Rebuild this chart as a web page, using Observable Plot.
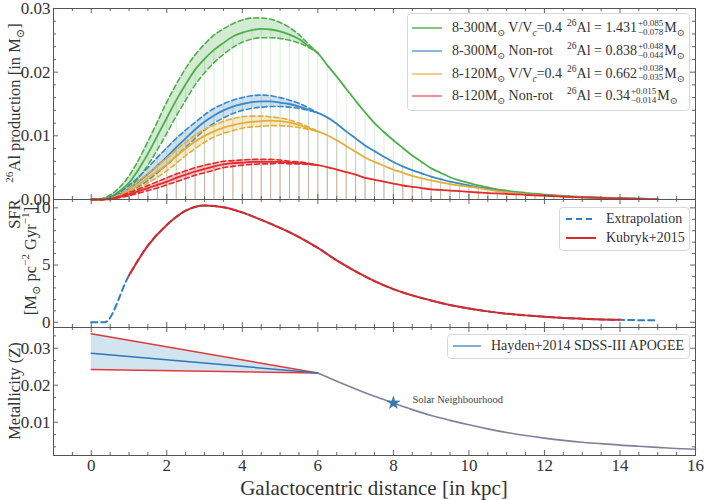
<!DOCTYPE html>
<html><head><meta charset="utf-8">
<script src="https://cdn.jsdelivr.net/npm/d3@7"></script>
<script src="https://cdn.jsdelivr.net/npm/@observablehq/plot@0.6"></script>
<style>
body{margin:0;background:#fff;}
#wrap{position:relative;width:706px;height:500px;font-family:"Liberation Serif","DejaVu Serif",serif;color:#333;background:#fff;overflow:hidden;}
#wrap svg{position:absolute;left:0;}
.lbl{position:absolute;white-space:nowrap;z-index:5;line-height:1;}
.c{transform:translate(-50%,-50%);}
.rot{transform:translate(-50%,-50%) rotate(-90deg);}
.leg{position:absolute;background:rgba(255,255,255,0.9);border:1px solid #d8d8d8;border-radius:4px;z-index:6;font-size:14px;}
.row{position:absolute;left:0;right:0;height:18px;line-height:18px;white-space:nowrap;}
.sw{position:absolute;height:2px;top:8px;}
.tx{position:absolute;top:0;}
sub,sup{font-size:68%;line-height:0;}
.ss{display:inline-flex;flex-direction:column;font-size:9px;line-height:9px;vertical-align:middle;margin:0 1px 0 1px;position:relative;top:-1px;}
</style>
</head><body>
<div id="wrap"></div>
<script>
// ---------- data ----------
const xGrid = [0,0.25,0.5,0.75,1,1.25,1.5,1.75,2,2.25,2.5,2.75,3,3.25,3.5,3.75,4,4.25,4.5,4.75,5,5.25,5.5,5.75,6,
  6.25,6.5,6.75,7,7.25,7.5,7.75,8,8.25,8.5,8.75,9,9.25,9.5,9.75,10,10.25,10.5,10.75,
  11,11.25,11.5,11.75,12,12.25,12.5,12.75,13,13.25,13.5,13.75,14,14.25,14.5,14.75,15];
const al300rot = [0,0.00005,0.0004,0.0013,0.0026,0.0047,0.0072,0.0100,0.0128,0.0156,0.0181,0.0204,0.0221,0.0235,0.0246,0.0256,0.0262,0.0266,0.0268,0.0267,0.0264,0.0259,0.0252,0.0241,0.0230,
  0.0211,0.0193,0.0174,0.0155,0.0137,0.0120,0.0106,0.0093,0.0081,0.0069,0.0059,0.0049,0.0042,0.0035,0.0030,0.0026,0.0022,0.0019,0.0016,
  0.0014,0.0012,0.00105,0.0009,0.00078,0.00067,0.00057,0.00049,0.00042,0.00036,0.00031,0.00026,0.00022,0.00018,0.00014,0.0001,0.00007];
const al300non = [0,0,0.0002,0.0008,0.0017,0.0028,0.0040,0.0053,0.0067,0.0082,0.0096,0.0110,0.0122,0.0132,0.0140,0.0146,0.0150,0.0153,0.0154,0.0154,0.0152,0.0150,0.0146,0.0141,0.0136,
  0.0129,0.0119,0.0107,0.0096,0.0085,0.0076,0.0067,0.0059,0.0052,0.0046,0.0041,0.0036,0.0032,0.0028,0.0025,0.0022,0.0019,0.0017,0.0014,
  0.0012,0.00103,0.00088,0.00076,0.00066,0.00057,0.00049,0.00042,0.00036,0.00031,0.00027,0.00023,0.00019,0.00015,0.00012,0.00009,0.00006];
const al120rot = [0,0,0.0001,0.0006,0.0013,0.0023,0.0034,0.0044,0.0055,0.0068,0.0080,0.0091,0.0100,0.0107,0.0113,0.0117,0.0120,0.0122,0.0123,0.0124,0.0123,0.0121,0.0117,0.0112,0.0107,
  0.0101,0.0093,0.0084,0.0075,0.0066,0.0059,0.0053,0.0047,0.0042,0.0037,0.0033,0.0030,0.0027,0.0024,0.0022,0.0020,0.0018,0.00155,0.00133,
  0.00115,0.00098,0.00084,0.00072,0.00062,0.00054,0.00046,0.0004,0.00034,0.0003,0.00026,0.00022,0.00018,0.00014,0.00011,0.00008,0.00005];
const al120non = [0,0,0.0001,0.0004,0.0008,0.0013,0.0018,0.0023,0.0028,0.0034,0.0039,0.0044,0.0048,0.0052,0.0055,0.0057,0.0058,0.0059,0.0059,0.0059,0.0059,0.0058,0.0057,0.0056,0.0054,
  0.0051,0.0047,0.0043,0.0039,0.0034,0.0031,0.0028,0.0025,0.0022,0.0020,0.0018,0.0016,0.0015,0.0014,0.0013,0.0012,0.0011,0.0010,0.00095,
  0.00088,0.0008,0.00073,0.00066,0.0006,0.00053,0.00046,0.0004,0.00034,0.00029,0.00025,0.00021,0.00017,0.00013,0.0001,0.00007,0.00005];
// uncertainty bands (0 .. 6 kpc)
const al300rotHi = [0,0.0001,0.0007,0.0019,0.0037,0.0062,0.0091,0.0122,0.0153,0.0181,0.0206,0.0227,0.0244,0.0258,0.0268,0.0276,0.0282,0.0285,0.0285,0.0283,0.0278,0.0270,0.0259,0.0244,0.0230];
const al300rotLo = [0,0,0.0002,0.0008,0.0017,0.0034,0.0054,0.0078,0.0104,0.0131,0.0156,0.0180,0.0199,0.0215,0.0228,0.0239,0.0247,0.0252,0.0254,0.0254,0.0253,0.0250,0.0246,0.0239,0.0230];
const al300nonHi = [0,0,0.0003,0.0011,0.0022,0.0035,0.0050,0.0066,0.0081,0.0096,0.0109,0.0121,0.0133,0.0143,0.0150,0.0156,0.0160,0.0163,0.0164,0.0163,0.0160,0.0156,0.0151,0.0144,0.0136];
const al300nonLo = [0,0,0.0001,0.0005,0.0012,0.0020,0.0030,0.0042,0.0054,0.0068,0.0082,0.0096,0.0109,0.0120,0.0128,0.0135,0.0140,0.0143,0.0145,0.0146,0.0146,0.0145,0.0143,0.0140,0.0136];
const al120rotHi = [0,0,0.0002,0.0008,0.0017,0.0029,0.0041,0.0053,0.0065,0.0078,0.0090,0.0101,0.0110,0.0117,0.0123,0.0127,0.0130,0.0131,0.0131,0.0130,0.0128,0.0125,0.0120,0.0114,0.0107];
const al120rotLo = [0,0,0.0001,0.0004,0.0009,0.0017,0.0026,0.0035,0.0045,0.0057,0.0069,0.0080,0.0090,0.0098,0.0104,0.0108,0.0112,0.0114,0.0115,0.0116,0.0116,0.0115,0.0113,0.0110,0.0107];
const al120nonHi = [0,0,0.0001,0.0005,0.0011,0.0016,0.0022,0.0028,0.0034,0.0040,0.0045,0.0050,0.0054,0.0057,0.0060,0.0061,0.0062,0.0063,0.0063,0.0063,0.0062,0.0060,0.0059,0.0057,0.0054];
const al120nonLo = [0,0,0,0.0003,0.0006,0.0010,0.0014,0.0018,0.0023,0.0028,0.0033,0.0038,0.0042,0.0046,0.0050,0.0052,0.0054,0.0055,0.0056,0.0056,0.0057,0.0056,0.0056,0.0055,0.0054];

// SFR panel
const sfrX = [1,1.5,2,2.5,3,3.5,4,4.5,5,5.5,6,6.5,7,7.5,8,8.5,9,9.5,10,10.5,11,11.5,12,12.5,13,13.5,14];
const sfrKubryk = [4.1,6.7,8.5,9.75,10.2,10.05,9.6,8.95,8.25,7.45,6.5,5.4,4.45,3.6,2.9,2.35,1.9,1.5,1.2,0.95,0.75,0.6,0.48,0.38,0.31,0.25,0.21];
const extrapInX = [0,0.35,1];
const extrapInY = [0,0,4.1];
const extrapOutX = [14,15];
const extrapOutY = [0.21,0.16];

// Metallicity panel
const zGradX = [0,6];
const zGradHi = [0.0339,0.0233];
const zGradMid = [0.02865,0.0233];
const zGradLo = [0.02424,0.0233];
const zOutX = [6,6.5,7,7.5,8,8.5,9,9.5,10,10.5,11,11.5,12,12.5,13,13.5,14,14.5,15,15.5,16];
const zOut = [0.0233,0.0211,0.0190,0.0170,0.0152,0.0134,0.0118,0.0105,0.0093,0.0082,0.0072,0.0064,0.0057,0.0051,0.0046,0.0042,0.0038,0.0035,0.0032,0.0029,0.0027];
const solar = {x: 8, z: 0.0152, label: "Solar Neighbourhood"};

// legend texts
const legMass = ["8-300M<sub>⊙</sub> V/V<sub><i>c</i></sub>=0.4","8-300M<sub>⊙</sub> Non-rot","8-120M<sub>⊙</sub> V/V<sub><i>c</i></sub>=0.4","8-120M<sub>⊙</sub> Non-rot"];
const legTotal = ["1.431","0.838","0.662","0.34"];
const legPlus = ["+0.085","+0.048","+0.038","+0.015"];
const legMinus = ["−0.078","−0.044","−0.035","−0.014"];
const xTicks = [0,2,4,6,8,10,12,14,16];

// ---------- styles ----------
const COL = ["#4daf4a","#3a88c5","#e5ae38","#e3292b"];
const LEGCOL = ["rgba(77,175,74,0.7)","rgba(58,136,197,0.6)","rgba(229,174,56,0.6)","rgba(227,41,43,0.5)"];
const W = 706, ML = 53, MR = 11, FW = W - ML - MR;
const xDom = [-1, 16];
const FONT = '"Liberation Serif","DejaVu Serif",serif';
const TK = "#555";

function ticks(yDom, H, yMaj, yMin) {
  const xr = xDom[1] - xDom[0], yr = yDom[1] - yDom[0];
  const xMaj = xTicks.filter(v => v > xDom[0] && v < xDom[1]);
  const xMin = d3.range(-0.5, 16, 0.5).filter(v => v % 2 !== 0);
  const o = {stroke: TK, strokeWidth: 0.9};
  const m = [];
  [[xMaj,5],[xMin,3]].forEach(([arr,L]) => {
    const d = L / H * yr;
    m.push(Plot.ruleX(arr, {x: v => v, y1: yDom[0], y2: yDom[0] + d, ...o}));
    m.push(Plot.ruleX(arr, {x: v => v, y1: yDom[1] - d, y2: yDom[1], ...o}));
  });
  [[yMaj,5],[yMin,3]].forEach(([arr,L]) => {
    const d = L / FW * xr;
    m.push(Plot.ruleY(arr, {y: v => v, x1: xDom[0], x2: xDom[0] + d, ...o}));
    m.push(Plot.ruleY(arr, {y: v => v, x1: xDom[1] - d, x2: xDom[1], ...o}));
  });
  m.push(Plot.frame({stroke: TK, strokeWidth: 1}));
  return m;
}
const baseStyle = {background: "transparent", fontFamily: FONT, fontSize: "17px", color: "#333", overflow: "visible"};

// ---------- panel 1 ----------
const central = [al300rot, al300non, al120rot, al120non];
const hi = [al300rotHi, al300nonHi, al120rotHi, al120nonHi];
const lo = [al300rotLo, al300nonLo, al120rotLo, al120nonLo];
const bandX = xGrid.slice(0, 25);
const m1 = [];
central.forEach((s, k) => {
  const d = xGrid.map((x, i) => ({x, y: s[i]}));
  m1.push(Plot.ruleX(d, {x: "x", y1: 0, y2: "y", stroke: COL[k], strokeOpacity: 0.2, strokeWidth: 1}));
});
central.forEach((s, k) => {
  const b = bandX.map((x, i) => ({x, lo: lo[k][i], hi: hi[k][i]}));
  const d = xGrid.map((x, i) => ({x, y: s[i]}));
  m1.push(Plot.areaY(b, {x: "x", y1: "lo", y2: "hi", fill: COL[k], fillOpacity: 0.25, curve: "monotone-x"}));
  m1.push(Plot.line(b, {x: "x", y: "hi", stroke: COL[k], strokeWidth: 1.6, strokeDasharray: "5,3", curve: "monotone-x"}));
  m1.push(Plot.line(b, {x: "x", y: "lo", stroke: COL[k], strokeWidth: 1.6, strokeDasharray: "5,3", curve: "monotone-x"}));
  m1.push(Plot.line(d, {x: "x", y: "y", stroke: COL[k], strokeWidth: 1.8, curve: "monotone-x"}));
});
const y1Dom = [0, 0.03];
const p1 = Plot.plot({
  width: W, height: 200, marginLeft: ML, marginRight: MR, marginTop: 8, marginBottom: 1,
  x: {domain: xDom, axis: null},
  y: {domain: y1Dom, ticks: [0,0.01,0.02,0.03], tickSize: 0, tickPadding: 3, tickFormat: d3.format(".2f"), label: null},
  style: baseStyle,
  marks: [...m1, ...ticks(y1Dom, 191, [0,0.01,0.02,0.03], d3.range(0.002,0.03,0.002).filter(v => Math.abs(v*100 - Math.round(v*100)) > 1e-6))]
});

// ---------- panel 2 ----------
const y2Dom = [-0.46, 10.73];
const extrapAll = [
  ...extrapInX.map((x,i) => ({x, y: extrapInY[i]})),
  ...sfrX.slice(1).map((x,i) => ({x, y: sfrKubryk[i+1]})),
  ...extrapOutX.slice(1).map((x,i) => ({x, y: extrapOutY[i+1]}))
];
const kub = sfrX.map((x,i) => ({x, y: sfrKubryk[i]}));
const p2 = Plot.plot({
  width: W, height: 130, marginLeft: ML, marginRight: MR, marginTop: 1, marginBottom: 1,
  x: {domain: xDom, axis: null},
  y: {domain: y2Dom, ticks: [0,5,10], tickSize: 0, tickPadding: 3, label: null},
  style: baseStyle,
  marks: [
    Plot.line(extrapAll, {x: "x", y: "y", stroke: "#2f7fc0", strokeWidth: 2, strokeDasharray: "6,4", curve: "monotone-x"}),
    Plot.line(kub, {x: "x", y: "y", stroke: "#d8282b", strokeWidth: 2, curve: "monotone-x"}),
    ...ticks(y2Dom, 128, [0,5,10], [1,2,3,4,6,7,8,9])
  ]
});

// ---------- panel 3 ----------
const y3Dom = [0.0010, 0.0356];
const grad = zGradX.map((x,i) => ({x, hi: zGradHi[i], mid: zGradMid[i], lo: zGradLo[i]}));
const outer = zOutX.map((x,i) => ({x, y: zOut[i]}));
const p3 = Plot.plot({
  width: W, height: 174, marginLeft: ML, marginRight: MR, marginTop: 1, marginBottom: 45,
  x: {domain: xDom, ticks: xTicks, tickSize: 0, tickPadding: 3, label: null},
  y: {domain: y3Dom, ticks: [0.01,0.02,0.03], tickSize: 0, tickPadding: 3, tickFormat: d3.format(".2f"), label: null},
  style: baseStyle,
  marks: [
    Plot.areaY(grad, {x: "x", y1: "lo", y2: "hi", fill: "#1f77b4", fillOpacity: 0.2}),
    Plot.line(grad, {x: "x", y: "hi", stroke: "#e0393b", strokeWidth: 1.5}),
    Plot.line(grad, {x: "x", y: "lo", stroke: "#e0393b", strokeWidth: 1.5}),
    Plot.line(grad, {x: "x", y: "mid", stroke: "#2f78b6", strokeWidth: 1.5}),
    Plot.line(outer, {x: "x", y: "y", stroke: "#7f809c", strokeWidth: 1.6, curve: "monotone-x"}),
    Plot.dot([solar], {x: "x", y: "z", symbol: "star", r: 4, fill: "#3a78b3", stroke: "#2d64a0", strokeWidth: 0.5}),
    Plot.text([solar], {x: "x", y: "z", text: "label", dx: 19, dy: -3, textAnchor: "start", fontSize: 10.5, fill: "#444"}),
    ...ticks(y3Dom, 128, [0.01,0.02,0.03], [0.01/3,0.02/3,0.04/3,0.05/3,0.07/3,0.08/3,0.1/3])
  ]
});

const wrap = document.getElementById("wrap");
p1.style.top = "0px"; p2.style.top = "198px"; p3.style.top = "326px";
wrap.appendChild(p1); wrap.appendChild(p2); wrap.appendChild(p3);

function addLabel(html, left, top, cls, size) {
  const d = document.createElement("div");
  d.className = "lbl " + cls;
  d.style.left = left + "px"; d.style.top = top + "px"; d.style.fontSize = size + "px";
  d.innerHTML = html;
  wrap.appendChild(d);
}
addLabel("<sup>26</sup>Al production [in M<sub>⊙</sub>]", 15, 103, "rot", 16.5);
addLabel("SFR", 15, 214, "rot", 16.5);
addLabel("[M<sub>⊙</sub> pc<sup>−2</sup> Gyr<sup>−1</sup>]", 31, 261, "rot", 16.5);
addLabel("Metallicity (Z)", 15, 391, "rot", 16.5);
addLabel("Galactocentric distance [in kpc]", 374, 488, "c", 21);

// legends
function legendBox(left, top, w, h) {
  const b = document.createElement("div");
  b.className = "leg";
  Object.assign(b.style, {left: left + "px", top: top + "px", width: w + "px", height: h + "px"});
  wrap.appendChild(b);
  return b;
}
function row(box, y, swatch, html, tx) {
  const r = document.createElement("div");
  r.className = "row"; r.style.top = (y - 9) + "px";
  r.innerHTML = `<div class="sw" style="left:${swatch.l}px;width:${swatch.w}px;${swatch.css}"></div>` + html.map((h,i) => `<span class="tx" style="left:${tx[i]}px">${h}</span>`).join("");
  box.appendChild(r);
}
const L1 = legendBox(407, 13, 281, 96);
[14, 37, 59.5, 82].forEach((y, k) => {
  row(L1, y, {l: 4, w: 30, css: `background:${LEGCOL[k]};`},
    [legMass[k], `<sup>26</sup>Al = ${legTotal[k]}<span class="ss"><span>${legPlus[k]}</span><span>${legMinus[k]}</span></span>M<sub>⊙</sub>`],
    [44, 159]);
});
const L2 = legendBox(559, 207, 129, 42);
row(L2, 11, {l: 6, w: 30, css: "background:repeating-linear-gradient(90deg,#2f7fc0 0 6px,transparent 6px 10px);"}, ["Extrapolation"], [46]);
row(L2, 30, {l: 6, w: 30, css: "background:#d8282b;"}, ["Kubryk+2015"], [46]);
const L3 = legendBox(447, 334, 241, 23);
row(L3, 11, {l: 5, w: 28, css: "background:rgba(47,120,182,0.6);"}, ["Hayden+2014 SDSS-III APOGEE"], [43]);
</script>
</body></html>
